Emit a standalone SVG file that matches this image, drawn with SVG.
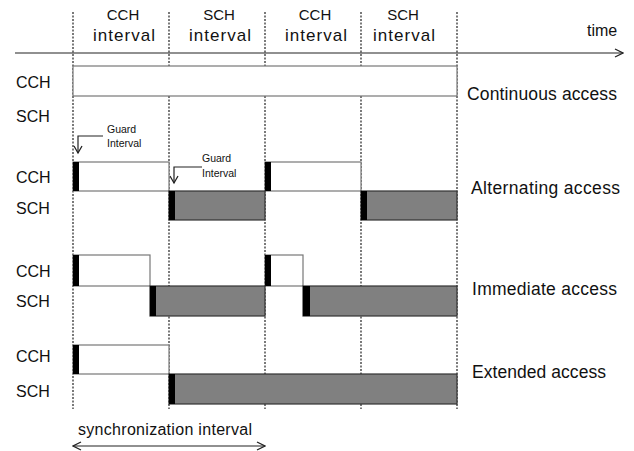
<svg xmlns="http://www.w3.org/2000/svg" width="634" height="451" viewBox="0 0 634 451">
<defs>
<style>
text{font-family:"Liberation Sans",Arial,sans-serif;fill:#111}
.lbl{font-size:16px}
.hdr{font-size:15px;text-anchor:middle}
.itv{font-size:17px;text-anchor:middle}
.acc{font-size:17.5px}
.gi{font-size:10.5px}
.grid{stroke:#333;stroke-width:1.3;stroke-dasharray:2,1.5;fill:none}
.cch{fill:#fff;stroke:#777;stroke-width:1.2}
.sch{fill:#808080;stroke:#333;stroke-width:1.2}
.grd{fill:#000}
.ln{stroke:#222;stroke-width:1.2;fill:none}
</style>
<marker id="ah" markerWidth="10" markerHeight="10" refX="9" refY="5" orient="auto" markerUnits="userSpaceOnUse">
<path d="M1,1 L9,5 L1,9" fill="none" stroke="#222" stroke-width="1.3"/>
</marker>
<marker id="ahs" markerWidth="10" markerHeight="10" refX="8" refY="5" orient="auto" markerUnits="userSpaceOnUse">
<path d="M1,1 L8,5 L1,9" fill="none" stroke="#222" stroke-width="1.3"/>
</marker>
<marker id="ahb" markerWidth="10" markerHeight="10" refX="1" refY="5" orient="auto" markerUnits="userSpaceOnUse">
<path d="M9,1 L1,5 L9,9" fill="none" stroke="#222" stroke-width="1.3"/>
</marker>
</defs>
<rect width="634" height="451" fill="#fff"/>
<g id="connectors">
<line class="grid" x1="73" y1="12" x2="73" y2="409"/>
<line class="grid" x1="169" y1="12" x2="169" y2="409"/>
<line class="grid" x1="265" y1="12" x2="265" y2="409"/>
<line class="grid" x1="361" y1="12" x2="361" y2="409"/>
<line class="grid" x1="457" y1="12" x2="457" y2="409"/>
<line class="ln" x1="15" y1="53" x2="623" y2="53" marker-end="url(#ah)"/>
<polyline class="ln" points="103,136 78,136 78,153" marker-end="url(#ahs)"/>
<polyline class="ln" points="202,167 174,167 174,183" marker-end="url(#ahs)"/>
<line class="ln" x1="73" y1="446" x2="265" y2="446" marker-start="url(#ahb)" marker-end="url(#ah)"/>
</g>
<g id="header">
<text class="hdr" x="123" y="20">CCH</text>
<text class="itv" x="124" y="41" textLength="62" lengthAdjust="spacing">interval</text>
<text class="hdr" x="219" y="20">SCH</text>
<text class="itv" x="220" y="41" textLength="62" lengthAdjust="spacing">interval</text>
<text class="hdr" x="315" y="20">CCH</text>
<text class="itv" x="316" y="41" textLength="62" lengthAdjust="spacing">interval</text>
<text class="hdr" x="403" y="20">SCH</text>
<text class="itv" x="404" y="41" textLength="62" lengthAdjust="spacing">interval</text>
<text class="lbl" x="587" y="36">time</text>
</g>
<g id="continuous">
<rect class="cch" x="73" y="66" width="384" height="30"/>
<text class="lbl" x="16" y="88">CCH</text>
<text class="lbl" x="16" y="122">SCH</text>
<text class="acc" x="467" y="100" textLength="150" lengthAdjust="spacing">Continuous access</text>
</g>
<g id="alternating">
<rect class="cch" x="73" y="162" width="96" height="29"/>
<rect class="grd" x="73" y="162" width="6" height="29"/>
<rect class="cch" x="265" y="162" width="96" height="29"/>
<rect class="grd" x="265" y="162" width="6" height="29"/>
<rect class="sch" x="169" y="191" width="96" height="29"/>
<rect class="grd" x="169" y="191" width="6" height="29"/>
<rect class="sch" x="361" y="191" width="96" height="29"/>
<rect class="grd" x="361" y="191" width="6" height="29"/>
<text class="lbl" x="16" y="183">CCH</text>
<text class="lbl" x="16" y="214">SCH</text>
<text class="gi" x="107" y="133">Guard</text>
<text class="gi" x="107" y="147">Interval</text>
<text class="gi" x="202" y="162">Guard</text>
<text class="gi" x="202" y="177">Interval</text>
<text class="acc" x="471" y="194" textLength="149" lengthAdjust="spacing">Alternating access</text>
</g>
<g id="immediate">
<rect class="cch" x="73" y="255" width="77" height="31"/>
<rect class="grd" x="73" y="255" width="6" height="31"/>
<rect class="cch" x="265" y="255" width="38" height="31"/>
<rect class="grd" x="265" y="255" width="6" height="31"/>
<rect class="sch" x="150" y="286" width="115" height="30"/>
<rect class="grd" x="150" y="286" width="6" height="30"/>
<rect class="sch" x="303" y="286" width="154" height="30"/>
<rect class="grd" x="303" y="286" width="7" height="30"/>
<text class="lbl" x="16" y="277">CCH</text>
<text class="lbl" x="16" y="307">SCH</text>
<text class="acc" x="472" y="295" textLength="145" lengthAdjust="spacing">Immediate access</text>
</g>
<g id="extended">
<rect class="cch" x="73" y="345" width="96" height="29"/>
<rect class="grd" x="73" y="345" width="6" height="29"/>
<rect class="sch" x="169" y="374" width="288" height="30"/>
<rect class="grd" x="169" y="374" width="6" height="30"/>
<text class="lbl" x="16" y="362">CCH</text>
<text class="lbl" x="16" y="397">SCH</text>
<text class="acc" x="472" y="378" textLength="134" lengthAdjust="spacing">Extended access</text>
</g>
<g id="sync">
<text class="lbl" x="78" y="435" font-size="16.5" textLength="174" lengthAdjust="spacing">synchronization interval</text>
</g>
</svg>
